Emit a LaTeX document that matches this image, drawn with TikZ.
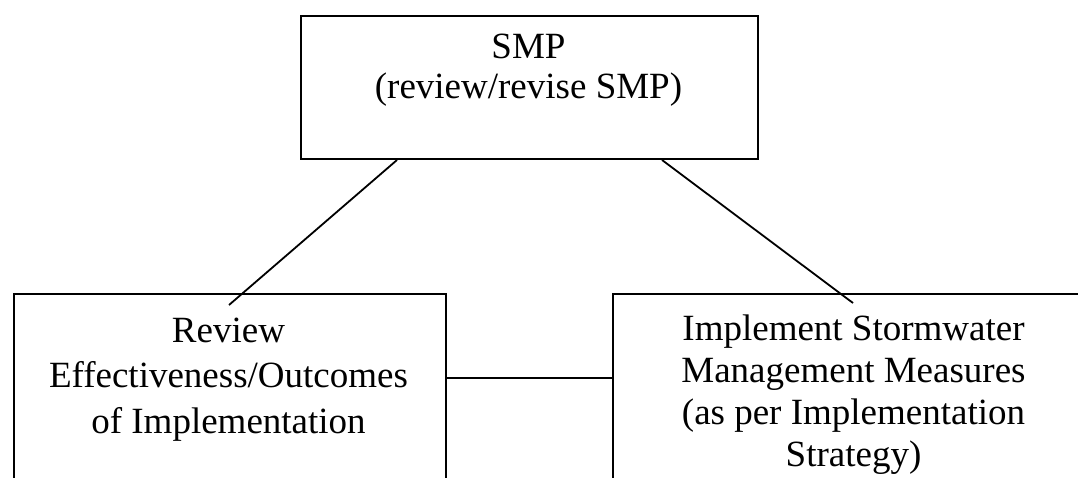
\documentclass[tikz,border=0pt]{standalone}
\usepackage{fontspec}
\setmainfont{Liberation Serif}
\begin{document}
\begin{tikzpicture}[x=1pt,y=-1pt,
  box/.style={draw, line width=2pt, inner sep=0pt, anchor=north west},
  txt/.style={font=\fontsize{37}{42.5}\selectfont, align=center, inner sep=0pt, anchor=north},
  conn/.style={line width=1.8pt}]
\useasboundingbox (0,0) rectangle (1078,477);
\clip (0,0) rectangle (1078,477);
\fill[white] (0,0) rectangle (1078,477);
% boxes
\node[box, minimum width=457pt, minimum height=143pt] (smp) at (300,15) {};
\node[box, minimum width=432.5pt, minimum height=250pt] (review) at (12.5,293) {};
\node[box, minimum width=483pt, minimum height=250pt] (impl) at (612,293) {};
% texts
\node[txt, font=\fontsize{37}{40}\selectfont] (smpt) at (528.5,34) {SMP\\(review/revise SMP)};
\node[txt, font=\fontsize{37}{45.5}\selectfont] (reviewt) at (228.5,317.5) {Review\\Effectiveness/Outcomes\\of Implementation};
\node[txt, font=\fontsize{37}{42}\selectfont] (implt) at (853.5,315) {Implement Stormwater\\Management Measures\\(as per Implementation\\Strategy)};
% connectors
\coordinate (lend) at (229,305);
\coordinate (rend) at (853,303);
\coordinate (hy) at (0,378);
\draw[conn] ([xshift=97pt]smp.south west) -- (lend);
\draw[conn] ([xshift=362pt]smp.south west) -- (rend);
\draw[conn] (review.north east |- hy) -- (impl.north west |- hy);
\end{tikzpicture}
\end{document}
